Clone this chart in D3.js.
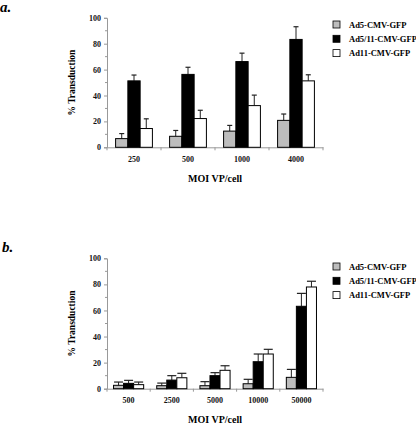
<!DOCTYPE html>
<html><head><meta charset="utf-8">
<script src="https://cdn.jsdelivr.net/npm/d3@7"></script>
<style>body{margin:0;background:#fff}svg{display:block}</style>
</head><body>
<script>
const series = ["Ad5-CMV-GFP", "Ad5/11-CMV-GFP", "Ad11-CMV-GFP"];
const colors = ["#bdbdbd", "#000000", "#ffffff"];
const yTicks = [0, 20, 40, 60, 80, 100];

const catsA = ["250", "500", "1000", "4000"];
const ad5A = [6.7, 8.5, 12.5, 20.8];
const ad511A = [51.3, 56.3, 66.2, 83.3];
const ad11A = [14.5, 22.2, 32.2, 51.3];
const ad5ErrA = [3.9, 4.5, 4.4, 4.9];
const ad511ErrA = [4.5, 5.5, 6.5, 9.8];
const ad11ErrA = [7.5, 6.4, 8.1, 4.7];

const catsB = ["500", "2500", "5000", "10000", "50000"];
const ad5B = [2.6, 2.3, 2.3, 3.8, 8.7];
const ad511B = [4.1, 6.6, 10.0, 20.7, 63.2];
const ad11B = [3.1, 8.4, 14.1, 26.6, 78.0];
const ad5ErrB = [2.5, 2.0, 3.1, 3.4, 6.1];
const ad511ErrB = [2.3, 3.4, 2.3, 5.9, 9.9];
const ad11ErrB = [2.0, 3.4, 3.5, 3.6, 4.4];

const W = 416, H = 425;
const svg = d3.select("body").append("svg").attr("width", W).attr("height", H);
const serif = "'Liberation Serif', 'Times New Roman', serif";

function panel(cfg) {
  const g = svg.append("g");
  const x = d3.scaleBand().domain(cfg.cats).range([cfg.x0, cfg.x1]).paddingInner(0).paddingOuter(0);
  const y = d3.scaleLinear().domain([0, 100]).range([cfg.yb, cfg.yt]);
  const x1 = d3.scaleBand().domain(series).range([0, x.bandwidth()]).paddingOuter(cfg.pad).paddingInner(0);

  // y axis
  const ya = g.append("g").attr("transform", `translate(${cfg.x0},0)`)
    .call(d3.axisLeft(y).tickValues(yTicks).tickSize(3).tickPadding(3).tickFormat(d3.format("d")));
  ya.append("g").selectAll("line").data(d3.range(10, 100, 20)).join("line")
    .attr("x1", -2).attr("x2", 0).attr("y1", d => y(d)).attr("y2", d => y(d))
    .attr("stroke", "#999");
  // x axis
  const xa = g.append("g").attr("transform", `translate(0,${cfg.yb})`)
    .call(d3.axisBottom(x).tickSize(0).tickPadding(cfg.tickPadX));
  xa.append("g").selectAll("line").data(d3.range(cfg.cats.length + 1)).join("line")
    .attr("x1", i => cfg.x0 + i * x.step()).attr("x2", i => cfg.x0 + i * x.step())
    .attr("y1", 0).attr("y2", 3).attr("stroke", "#999");
  [ya, xa].forEach(a => {
    a.select(".domain").attr("stroke", "#999");
    a.selectAll(".tick line").attr("stroke", "#999");
    a.selectAll("text").attr("font-family", serif).attr("font-weight", "bold")
      .attr("font-size", 8).attr("fill", "#111");
  });

  const vals = cfg.vals, errs = cfg.errs;
  series.forEach((s, si) => {
    const sg = g.append("g");
    cfg.cats.forEach((c, ci) => {
      const bx = x(c) + x1(s), bw = x1.bandwidth();
      const v = vals[si][ci], e = errs[si][ci];
      const cx = bx + bw / 2;
      sg.append("line").attr("x1", cx).attr("x2", cx).attr("y1", y(v)).attr("y2", y(v + e))
        .attr("stroke", "#222").attr("stroke-width", 1);
      sg.append("line").attr("x1", cx - cfg.cap / 2).attr("x2", cx + cfg.cap / 2)
        .attr("y1", y(v + e)).attr("y2", y(v + e)).attr("stroke", "#222").attr("stroke-width", 1.2);
      sg.append("rect").attr("x", bx).attr("y", y(v)).attr("width", bw).attr("height", y(0) - y(v))
        .attr("fill", colors[si]).attr("stroke", "#000").attr("stroke-width", 1);
    });
  });

  // titles
  g.append("text").attr("transform", `translate(${cfg.yTitleX},${(cfg.yb + cfg.yt) / 2}) rotate(-90)`)
    .attr("text-anchor", "middle").attr("font-family", serif).attr("font-weight", "bold")
    .attr("font-size", 9.5).text("% Transduction");
  g.append("text").attr("x", (cfg.x0 + cfg.x1) / 2).attr("y", cfg.xTitleY)
    .attr("text-anchor", "middle").attr("font-family", serif).attr("font-weight", "bold")
    .attr("font-size", 10).text("MOI VP/cell");
  g.append("text").attr("x", cfg.labelX).attr("y", cfg.labelY).attr("font-family", serif)
    .attr("font-weight", "bold").attr("font-style", "italic").attr("font-size", 15).text(cfg.label);

  // legend
  const lg = g.append("g");
  series.forEach((s, i) => {
    const ly = cfg.legY + i * cfg.legStep;
    lg.append("rect").attr("x", 333).attr("y", ly - 3.5).attr("width", 7).attr("height", 7)
      .attr("fill", colors[i]).attr("stroke", "#000").attr("stroke-width", 0.8);
    lg.append("text").attr("x", 349).attr("y", ly + 3).attr("font-family", serif)
      .attr("font-weight", "bold").attr("font-size", 8.5).text(s);
  });
}

panel({cats: catsA, vals: [ad5A, ad511A, ad11A], errs: [ad5ErrA, ad511ErrA, ad11ErrA],
  x0: 107, x1: 323, yb: 147.3, yt: 17.8, pad: 0.7, cap: 5, tickPadX: 9,
  yTitleX: 75, xTitleY: 182, label: "a.", labelX: 0, labelY: 12, legY: 24.5, legStep: 14.3});
panel({cats: catsB, vals: [ad5B, ad511B, ad11B], errs: [ad5ErrB, ad511ErrB, ad11ErrB],
  x0: 107, x1: 323, yb: 388.7, yt: 258.3, pad: 0.65, cap: 9, tickPadX: 9,
  yTitleX: 75, xTitleY: 423, label: "b.", labelX: 2, labelY: 252, legY: 266.5, legStep: 14.3});
</script>
</body></html>
